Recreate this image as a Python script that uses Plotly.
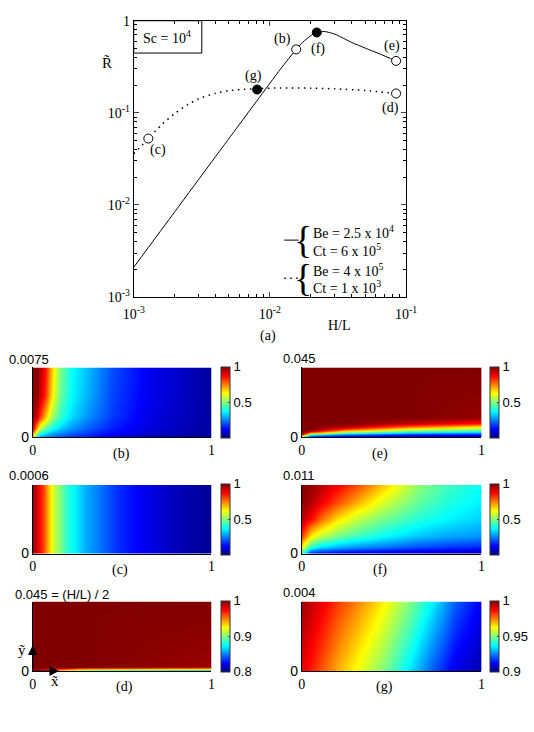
import plotly.graph_objects as go
import math

W, H = 534, 732

# ---------------- top panel data ----------------
hl_solid = [0.001, 0.002, 0.004, 0.008, 0.012, 0.0156, 0.018, 0.0205, 0.0221, 0.0251, 0.03, 0.04, 0.05, 0.065, 0.0845]
r_solid = [0.0021, 0.0084, 0.0336, 0.134, 0.30, 0.488, 0.61, 0.705, 0.745, 0.764, 0.715, 0.58, 0.505, 0.432, 0.366]
hl_dot = [0.001, 0.00128, 0.0016, 0.002, 0.0025, 0.003, 0.004, 0.005, 0.0065, 0.008, 0.012, 0.02, 0.03, 0.05, 0.0845]
r_dot = [0.036, 0.0525, 0.074, 0.098, 0.123, 0.142, 0.163, 0.174, 0.18, 0.183, 0.186, 0.185, 0.182, 0.175, 0.162]

pt_labels = ["(b)", "(e)", "(f)", "(c)", "(d)", "(g)"]
pt_hl = [0.0156, 0.0845, 0.0221, 0.00128, 0.0845, 0.00806]
pt_r = [0.488, 0.366, 0.745, 0.0525, 0.162, 0.179]
pt_filled = [False, False, True, False, False, True]
pt_shift = [(-14, 10), (-4, 15), (1, -17), (10, -11), (-6, -15), (-4, 14)]

# ---------------- field data (fractions of L and H/2) ----------------
# (b) H/2 = 0.0075
xb = [0, 0.02, 0.04, 0.07, 0.1, 0.15, 0.22, 0.32, 0.45, 0.65, 1.0]
yb = [0, 0.12, 0.3, 0.6, 1.0]
zb = [[0.62, 0.34, 0.27, 0.23, 0.21, 0.19, 0.17, 0.14, 0.1, 0.06, 0.02],
      [0.9, 0.7, 0.56, 0.46, 0.4, 0.33, 0.27, 0.21, 0.15, 0.09, 0.03],
      [0.98, 0.93, 0.83, 0.68, 0.56, 0.43, 0.34, 0.26, 0.18, 0.1, 0.03],
      [1.0, 0.98, 0.93, 0.82, 0.67, 0.48, 0.37, 0.29, 0.19, 0.11, 0.03],
      [1.0, 0.99, 0.95, 0.85, 0.7, 0.5, 0.38, 0.3, 0.2, 0.11, 0.03]]
# (c) H/2 = 0.0006
xc = [0, 0.03, 0.06, 0.085, 0.12, 0.19, 0.29, 0.47, 0.68, 0.88, 1.0]
yc = [0, 1.0]
zc = [[0.98, 0.9, 0.8, 0.7, 0.57, 0.42, 0.3, 0.17, 0.09, 0.04, 0.02],
      [0.98, 0.9, 0.8, 0.7, 0.57, 0.42, 0.3, 0.17, 0.09, 0.04, 0.02]]
# (e) H/2 = 0.045
xe = [0, 0.05, 0.25, 0.6, 1.0]
ye = [0, 0.015, 0.03, 0.05, 0.08, 0.11, 0.15, 0.2, 0.28, 1.0]
ze = [[0, 0, 0, 0, 0],
      [0.45, 0.17, 0.1, 0.07, 0.06],
      [0.83, 0.38, 0.22, 0.14, 0.12],
      [1.0, 0.6, 0.38, 0.26, 0.22],
      [1.0, 0.9, 0.58, 0.43, 0.37],
      [1.0, 1.0, 0.79, 0.57, 0.5],
      [1.0, 1.0, 0.95, 0.78, 0.65],
      [1.0, 1.0, 1.0, 0.93, 0.85],
      [1.0, 1.0, 1.0, 1.0, 0.98],
      [1.0, 1.0, 1.0, 1.0, 1.0]]
# (f) H/2 = 0.011
xf = [0, 0.05, 0.1, 0.2, 0.3, 0.45, 0.65, 0.8, 1.0]
yf = [0, 0.1, 0.25, 0.5, 0.75, 1.0]
zf = [[0.4, 0.12, 0.1, 0.08, 0.07, 0.06, 0.05, 0.04, 0.03],
      [0.62, 0.42, 0.35, 0.3, 0.27, 0.24, 0.2, 0.18, 0.16],
      [0.82, 0.64, 0.57, 0.49, 0.44, 0.38, 0.32, 0.29, 0.27],
      [0.95, 0.87, 0.78, 0.65, 0.57, 0.49, 0.41, 0.37, 0.33],
      [0.99, 0.95, 0.9, 0.8, 0.71, 0.59, 0.47, 0.41, 0.36],
      [1.0, 0.98, 0.95, 0.88, 0.81, 0.68, 0.51, 0.44, 0.38]]
# (d) H/2 = 0.045, colour range 0.8..1
xd = [0, 0.3, 1.0]
yd = [0, 0.015, 0.03, 0.045, 0.07, 1.0]
zd = [[0.9, 0.8, 0.8],
      [0.98, 0.88, 0.86],
      [1.0, 0.95, 0.93],
      [1.0, 0.99, 0.97],
      [1.0, 1.0, 0.995],
      [1.0, 1.0, 1.0]]
# (g) H/2 = 0.004, colour range 0.9..1
xg = [0, 0.1, 0.2, 0.3, 0.45, 0.6, 0.72, 0.85, 1.0]
yg = [0, 1.0]
zg = [[0.99, 0.98, 0.97, 0.962, 0.95, 0.935, 0.922, 0.91, 0.904],
      [0.997, 0.99, 0.982, 0.975, 0.964, 0.95, 0.9375, 0.922, 0.911]]

jet = [[0, "rgb(0,0,128)"], [0.125, "rgb(0,0,255)"], [0.375, "rgb(0,255,255)"],
       [0.625, "rgb(255,255,0)"], [0.875, "rgb(255,0,0)"], [1, "rgb(128,0,0)"]]

SERIF = "Liberation Serif"
SANS = "Liberation Sans"

def px(x):
    return x / W

def py(y):
    return 1 - y / H

fig = go.Figure()

# ---------------- top panel ----------------
fig.add_trace(go.Scatter(x=hl_solid, y=r_solid, mode="lines", line=dict(color="black", width=1, shape="spline", smoothing=0.6),
                         xaxis="x", yaxis="y", showlegend=False))
fig.add_trace(go.Scatter(x=hl_dot, y=r_dot, mode="lines", line=dict(color="black", width=1.5, dash="1.5px,4.5px", shape="spline", smoothing=0.6),
                         xaxis="x", yaxis="y", showlegend=False))
fig.add_trace(go.Scatter(x=pt_hl, y=pt_r, mode="markers",
                         marker=dict(size=9, color=["black" if f else "white" for f in pt_filled],
                                     line=dict(color="black", width=1)),
                         xaxis="x", yaxis="y", showlegend=False))

annotations = []
for lab, xv, yv, (dx, dy) in zip(pt_labels, pt_hl, pt_r, pt_shift):
    annotations.append(dict(x=math.log10(xv), y=math.log10(yv), xref="x", yref="y", text=lab, showarrow=False,
                            xshift=dx, yshift=dy, font=dict(family=SERIF, size=14, color="black")))

# ---------------- heatmaps ----------------
left = [px(22.7), px(209)]
right = [px(303.3), px(490.7)]
rows = [[py(439), py(368)], [py(558), py(488)], [py(678), py(607)]]
cb_left_x = px(219)
cb_right_x = px(500)
cb_y = [py(403.5), py(523), py(642.5)]

panels = [
    # name, axis idx, x, y, z, zmin, zmax, col, row, cbticks
    ("b", 2, xb, yb, zb, 0, 1, 0, 0, [0.5, 1]),
    ("e", 3, xe, ye, ze, 0, 1, 1, 0, [0.5, 1]),
    ("c", 4, xc, yc, zc, 0, 1, 0, 1, [0.5, 1]),
    ("f", 5, xf, yf, zf, 0, 1, 1, 1, [0.5, 1]),
    ("d", 6, xd, yd, zd, 0.8, 1, 0, 2, [0.8, 0.9, 1]),
    ("g", 7, xg, yg, zg, 0.9, 1, 1, 2, [0.9, 0.95, 1]),
]

layout_axes = {}
for name, idx, xs, ys, zs, zmin, zmax, col, row, cbt in panels:
    fig.add_trace(go.Heatmap(
        x=xs, y=ys, z=zs, zmin=zmin, zmax=zmax, colorscale=jet, zsmooth="best",
        xaxis="x%d" % idx, yaxis="y%d" % idx,
        colorbar=dict(x=cb_left_x if col == 0 else cb_right_x, xanchor="left", xpad=0,
                      y=cb_y[row], yanchor="middle", ypad=0, len=71, lenmode="pixels",
                      thickness=9, thicknessmode="pixels", outlinewidth=1, outlinecolor="#333",
                      tickvals=cbt, ticktext=[("%g" % t) for t in cbt], ticks="inside", ticklen=2,
                      tickfont=dict(family=SANS, size=13, color="black"))))
    layout_axes["xaxis%d" % idx] = dict(domain=left if col == 0 else right, range=[0, 1], anchor="y%d" % idx,
                                        tickvals=[0, 1], ticktext=["0", "1"], ticks="", showgrid=False, zeroline=False,
                                        showline=True, linecolor="black", linewidth=1,
                                        tickfont=dict(family=SERIF, size=14, color="black"))
    layout_axes["yaxis%d" % idx] = dict(domain=rows[row], range=[0, 1], anchor="x%d" % idx,
                                        tickvals=[0], ticktext=["0"], ticks="", showgrid=False, zeroline=False,
                                        showline=True, linecolor="black", linewidth=1,
                                        tickfont=dict(family=SANS, size=14, color="black"))

# heatmap texts
def ann(x, y, text, family=SERIF, size=14, xanchor="center", yanchor="middle"):
    annotations.append(dict(x=px(x), y=py(y), xref="paper", yref="paper", text=text, showarrow=False,
                            xanchor=xanchor, yanchor=yanchor, font=dict(family=family, size=size, color="black")))

ann(42, 360, "0.0075", SANS, 13, xanchor="right")
ann(282, 359, "0.045", SANS, 13, xanchor="left")
ann(42, 478, "0.0006", SANS, 13, xanchor="right")
ann(282, 478, "0.011", SANS, 13, xanchor="left")
ann(2, 600, "0.045 = (H/L) / 2", SANS, 13, xanchor="left")
ann(282, 598, "0.004", SANS, 13, xanchor="left")
ann(115, 456, "(b)")
ann(385, 456, "(e)")
ann(114, 575, "(c)")
ann(385, 575, "(f)")
ann(118, 694, "(d)")
ann(390, 694, "(g)")
ann(11, 656, "ỹ", SERIF, 15)
ann(46, 688, "x̃", SERIF, 15)

# axis arrows in (d)
annotations.append(dict(x=0, y=0.37, ax=0, ay=0, xref="x6", yref="y6", axref="x6", ayref="y6", text="",
                        showarrow=True, arrowhead=2, arrowsize=1.6, arrowwidth=1.2, arrowcolor="black"))
annotations.append(dict(x=0.147, y=0, ax=0, ay=0, xref="x6", yref="y6", axref="x6", ayref="y6", text="",
                        showarrow=True, arrowhead=2, arrowsize=1.6, arrowwidth=1.2, arrowcolor="black"))

# top panel labels
ann(100, 57, "R̃", SERIF, 15)
ann(343, 325, "H/L", SERIF, 14)
ann(268, 336, "(a)", SERIF, 14)
ann(163, 31, "Sc = 10<sup>4</sup>", SERIF, 14)

# legend (manual)
ann(305, 238, "{", SERIF, 38)
ann(305, 277, "{", SERIF, 38)
ann(313, 230, "Be = 2.5 x 10<sup>4</sup>", SERIF, 14, xanchor="left")
ann(313, 248, "Ct = 6 x 10<sup>5</sup>", SERIF, 14, xanchor="left")
ann(313, 269, "Be = 4 x 10<sup>5</sup>", SERIF, 14, xanchor="left")
ann(313, 286, "Ct = 1 x 10<sup>3</sup>", SERIF, 14, xanchor="left")

shapes = [
    dict(type="rect", xref="paper", yref="paper", x0=px(128), x1=px(199), y0=py(47), y1=py(14),
         line=dict(color="black", width=1), fillcolor="rgba(0,0,0,0)"),
    dict(type="line", xref="paper", yref="paper", x0=px(285), x1=px(300), y0=py(238), y1=py(238),
         line=dict(color="black", width=1)),
    dict(type="line", xref="paper", yref="paper", x0=px(285), x1=px(300), y0=py(277), y1=py(277),
         line=dict(color="black", width=1.5, dash="1.5px,4.5px")),
]

tickfont_top = dict(family=SERIF, size=14, color="black")
fig.update_layout(
    width=W, height=H, margin=dict(l=0, r=0, t=0, b=0), paper_bgcolor="white", plot_bgcolor="white",
    showlegend=False,
    xaxis=dict(type="log", range=[-3, -1], domain=[px(128), px(412)], anchor="y",
               tickvals=[0.001, 0.01, 0.1], ticktext=["10<sup>-3</sup>", "10<sup>-2</sup>", "10<sup>-1</sup>"],
               ticks="inside", ticklen=5, showline=True, mirror="ticks", linecolor="black", linewidth=1,
               showgrid=False, zeroline=False, tickfont=tickfont_top, ticklabelstandoff=4,
               minor=dict(ticks="inside", ticklen=3, tickcolor="black", dtick="D1", showgrid=False)),
    yaxis=dict(type="log", range=[-3, 0], domain=[py(296), py(14)], anchor="x",
               tickvals=[0.001, 0.01, 0.1, 1], ticktext=["10<sup>-3</sup>", "10<sup>-2</sup>", "10<sup>-1</sup>", "1"],
               ticks="inside", ticklen=5, showline=True, mirror="ticks", linecolor="black", linewidth=1,
               showgrid=False, zeroline=False, tickfont=tickfont_top,
               minor=dict(ticks="inside", ticklen=3, tickcolor="black", dtick="D1", showgrid=False)),
    annotations=annotations, shapes=shapes,
    **layout_axes,
)

fig.write_html("out.html")
